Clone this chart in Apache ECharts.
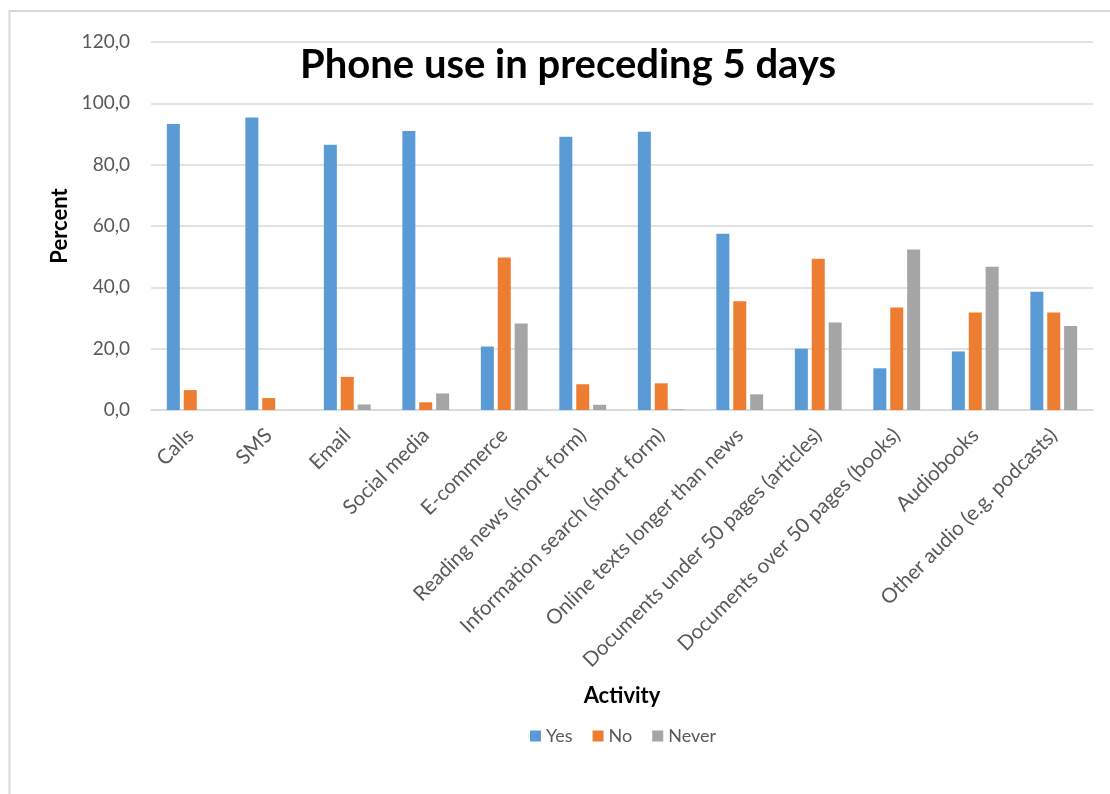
<!DOCTYPE html>
<html>
<head>
<meta charset="utf-8">
<script src="https://cdn.jsdelivr.net/npm/echarts@6/dist/echarts.min.js"></script>
<style>
  html, body { margin: 0; padding: 0; background: #fff; }
  #chart { width: 1110px; height: 794px; }
</style>
</head>
<body>
<div id="chart"></div>
<script>
const categories = [
  'Calls', 'SMS', 'Email', 'Social media', 'E-commerce',
  'Reading news (short form)', 'Information search (short form)',
  'Online texts longer than news', 'Documents under 50 pages (articles)',
  'Documents over 50 pages (books)', 'Audiobooks', 'Other audio (e.g. podcasts)'
]
const yesValues = [93.3, 95.4, 86.5, 91.0, 20.7, 89.1, 90.7, 57.5, 20.0, 13.6, 19.1, 38.6]
const noValues = [6.5, 3.9, 10.8, 2.5, 49.7, 8.4, 8.7, 35.5, 49.3, 33.4, 31.8, 31.8]
const neverValues = [0, 0, 1.8, 5.4, 28.2, 1.7, 0.2, 5.1, 28.5, 52.3, 46.7, 27.4]

const font = 'Lato, "Open Sans", sans-serif'
const grey = '#595959'

const chart = echarts.init(document.getElementById('chart'), null, { renderer: 'canvas' })

const option = {
  animation: false,
  color: ['#5B9BD5', '#ED7D31', '#A5A5A5'],
  title: {
    text: 'Phone use in preceding 5 days',
    left: 295,
    top: 40,
    textStyle: { fontFamily: font, fontSize: 40, fontWeight: 'bold', color: '#000' }
  },
  legend: {
    data: ['Yes', 'No', 'Never'],
    left: 530,
    top: 727,
    padding: 0,
    itemWidth: 11,
    itemHeight: 11,
    itemGap: 20,
    icon: 'rect',
    textStyle: { fontFamily: font, fontSize: 18, color: grey }
  },
  grid: { left: 151, right: 17, top: 42, bottom: 384 },
  xAxis: {
    type: 'category',
    data: categories,
    name: 'Activity',
    nameLocation: 'middle',
    nameGap: 275,
    nameTextStyle: { fontFamily: font, fontSize: 22, fontWeight: 'bold', color: '#000' },
    axisLine: { lineStyle: { color: '#d9d9d9', width: 1.5 } },
    axisTick: { show: false },
    axisLabel: {
      rotate: 45,
      interval: 0,
      margin: 22,
      fontFamily: font,
      fontSize: 20.5,
      color: grey
    }
  },
  yAxis: {
    type: 'value',
    min: 0,
    max: 120,
    interval: 20,
    name: 'Percent',
    nameLocation: 'middle',
    nameGap: 80,
    nameTextStyle: { fontFamily: font, fontSize: 22, fontWeight: 'bold', color: '#000' },
    axisLine: { show: false },
    axisTick: { show: false },
    splitLine: { lineStyle: { color: '#d9d9d9', width: 1.5 } },
    axisLabel: {
      margin: 21,
      fontFamily: font,
      fontSize: 19,
      color: grey,
      formatter: v => v.toFixed(1).replace('.', ',')
    }
  },
  series: [
    { name: 'Yes', type: 'bar', data: yesValues, barWidth: 13, barGap: '30%' },
    { name: 'No', type: 'bar', data: noValues, barWidth: 13, barGap: '30%' },
    { name: 'Never', type: 'bar', data: neverValues, barWidth: 13, barGap: '30%' }
  ],
  graphic: [
    {
      type: 'polyline',
      silent: true,
      shape: { points: [[9.5, 794], [9.5, 11], [1110, 11]] },
      style: { stroke: '#d9d9d9', lineWidth: 2, fill: null }
    }
  ]
}

chart.setOption(option)
</script>
</body>
</html>
